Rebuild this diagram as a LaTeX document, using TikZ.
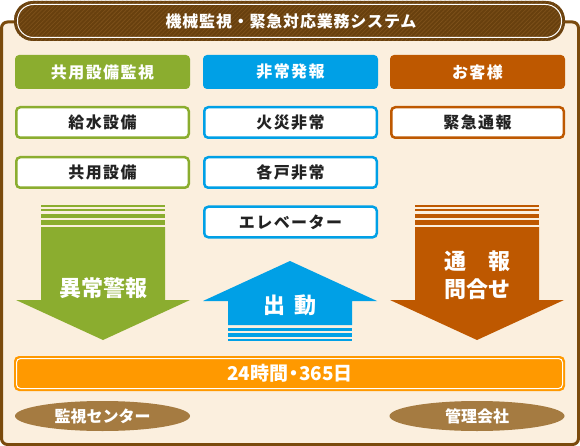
\documentclass[tikz,border=0pt]{standalone}
\usepackage{fontspec}
\setmainfont{Noto Sans CJK JP}
\newfontfamily\jpls{Noto Sans CJK JP}[LetterSpace=9]
\newfontfamily\jptitle{Noto Sans CJK JP}[LetterSpace=5]
\usetikzlibrary{patterns.meta,shapes.geometric}
\definecolor{framebrown}{RGB}{122,74,12}
\definecolor{cream}{RGB}{251,239,222}
\definecolor{bannerfill}{RGB}{104,64,14}
\definecolor{bannerhatch}{RGB}{124,80,26}
\definecolor{cgreen}{RGB}{139,173,47}
\definecolor{cblue}{RGB}{0,160,230}
\definecolor{crust}{RGB}{190,88,0}
\definecolor{corange}{RGB}{255,153,0}
\definecolor{ctan}{RGB}{165,123,65}
\definecolor{txt}{RGB}{34,34,34}
\tikzset{
  hdr/.style={rounded corners=4, minimum width=175, minimum height=34, inner sep=0, text=white, font=\jpls\bfseries\fontsize{16}{18}\selectfont},
  item/.style={rounded corners=4, fill=white, line width=2.5, minimum width=172.5, minimum height=30.5, inner sep=0, text=txt, font=\jpls\bfseries\fontsize{16}{18}\selectfont},
  arrowtext/.style={text=white, font=\bfseries\fontsize{22}{30}\selectfont, align=center, inner sep=0},
  ovallabel/.style={ellipse, fill=ctan, minimum width=175, minimum height=30, inner sep=0, text=white, font=\bfseries\fontsize{16}{18}\selectfont},
}
\begin{document}
\begin{tikzpicture}[x=1pt,y=-1pt]
\useasboundingbox (0,0) rectangle (580,446);
% outer frame
\draw[line width=3, draw=framebrown, fill=cream, rounded corners=6] (1.5,22) rectangle (578.5,444.5);
% title banner
\fill[bannerfill, rounded corners=19] (14,1) rectangle (565,41);
\fill[pattern={Lines[angle=45, distance=3pt, line width=0.8pt]}, pattern color=bannerhatch, rounded corners=19] (14,1) rectangle (565,41);
\draw[white, line width=1, rounded corners=16] (17.5,4.5) rectangle (561.5,37.5);
\node[text=white, font=\jptitle\bfseries\fontsize{16}{18}\selectfont, inner sep=0] (title) at (291,21) {機械監視・緊急対応業務システム};
% column headers
\node[hdr, fill=cgreen] (h1) at (102.5,72) {共用設備監視};
\node[hdr, fill=cblue] (h2) at (290.5,72) {非常発報};
\node[hdr, fill=crust] (h3) at (477.5,72) {お客様};
% items
\node[item, draw=cgreen] (g1) at (102.5,122.5) {給水設備};
\node[item, draw=cgreen] (g2) at (102.5,172.5) {共用設備};
\node[item, draw=cblue] (b1) at (290.5,122.5) {火災非常};
\node[item, draw=cblue] (b2) at (290.5,172.5) {各戸非常};
\node[item, draw=cblue] (b3) at (290.5,222) {エレベーター};
\node[item, draw=crust] (r1) at (477.5,122.5) {緊急通報};
% green down arrow
\fill[cgreen] (41,205) rectangle (165,206.8);
\fill[cgreen] (41,209) rectangle (165,211.2);
\fill[cgreen] (41,213.7) rectangle (165,217.7);
\fill[cgreen] (41,220) rectangle (165,225);
\fill[cgreen] (41,227) -- (165,227) -- (165,300) -- (190,300) -- (103,340) -- (16,300) -- (41,300) -- cycle;
\node[arrowtext] (ga) at (103,288) {異常警報};
% blue up arrow
\fill[cblue] (290,261) -- (377,301) -- (352,301) -- (352,325) -- (228,325) -- (228,301) -- (203,301) -- cycle;
\fill[cblue] (228,327.7) rectangle (352,330.7);
\fill[cblue] (228,333.3) rectangle (352,336.7);
\fill[cblue] (228,339) rectangle (352,340.7);
\node[arrowtext] (ba) at (290,305) {出\hspace{9pt}動};
% rust down arrow
\fill[crust] (415,205) rectangle (539,206.8);
\fill[crust] (415,209) rectangle (539,211.2);
\fill[crust] (415,213.7) rectangle (539,217.7);
\fill[crust] (415,220) rectangle (539,225);
\fill[crust] (415,227) -- (539,227) -- (539,300) -- (564,300) -- (477,340) -- (390,300) -- (415,300) -- cycle;
\node[arrowtext] (ra) at (477,275) {通　報\\[-2pt]問合せ};
% 24h bar
\fill[corange, rounded corners=5] (14,356) rectangle (565,391);
\draw[white, line width=1, rounded corners=4] (16.5,358.5) rectangle (562.5,388.5);
\node[text=white, font=\bfseries\fontsize{19}{21}\selectfont, inner sep=0] (bar) at (290,373.5) {24時間\hspace{-4pt}・\hspace{-4pt}365日};
% ovals
\node[ovallabel] (c1) at (102.5,416) {監視センター};
\node[ovallabel] (c2) at (477,416) {管理会社};
\end{tikzpicture}
\end{document}
